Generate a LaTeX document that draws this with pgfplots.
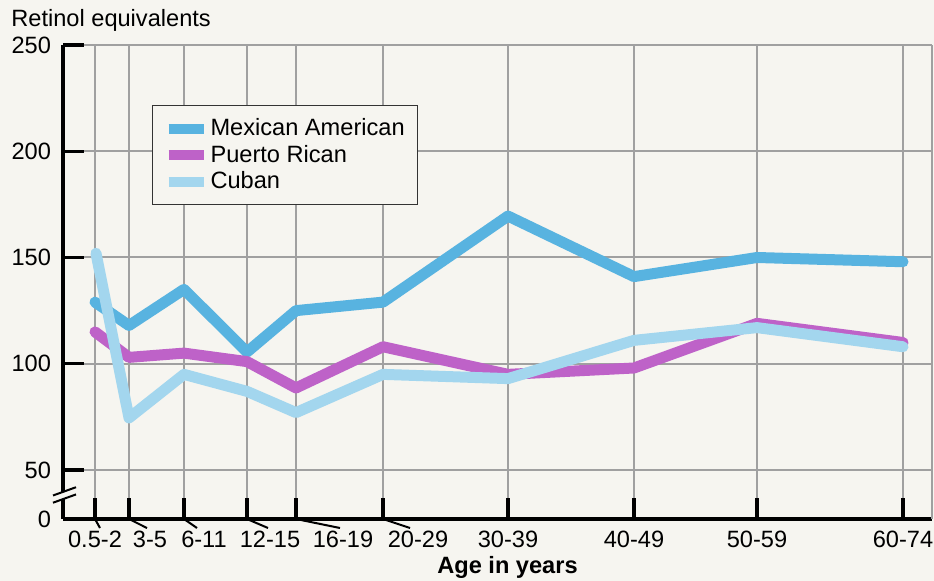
\documentclass[border=0pt]{standalone}
\usepackage{fontspec}
\setmainfont{Liberation Sans}
\usepackage{pgfplots}
\pgfplotsset{compat=1.18}
\definecolor{paper}{HTML}{F6F5F0}
\definecolor{mexblue}{HTML}{58B3E0}
\definecolor{prmag}{HTML}{BE62C8}
\definecolor{cubblue}{HTML}{A3D6EE}
\definecolor{gridgray}{HTML}{A0A0A0}
\begin{document}
\begin{tikzpicture}
\path[use as bounding box, fill=paper] (-31.5bp,-31bp) rectangle (435.5bp,259.5bp);
\begin{axis}[
  scale only axis, width=434.5bp, height=237bp,
  xmin=63, xmax=932, ymin=26.94, ymax=250,
  axis x line=bottom, axis y line=left,
  every non boxed x axis/.append style={x axis line style={-}},
  every non boxed y axis/.append style={y axis line style={-}},
  axis line style={-, line width=1.6bp, black},
  xtick={95,129,184,247,296,383,508,634,757,903},
  xticklabels={0.5-2,\hspace*{21bp}3-5,\hspace*{20bp}6-11,\hspace*{23bp}12-15,\hspace*{47bp}16-19,\hspace*{35bp}20-29,30-39,40-49,50-59,60-74},
  ytick={26.94,50,100,150,200,250},
  yticklabels={0,50,100,150,200,250},
  tick align=inside, major tick length=10.5bp,
  tick style={black, line width=1.6bp},
  grid=major, major grid style={gridgray, line width=1bp},
  extra x ticks={932}, extra x tick labels={},
  extra x tick style={major tick length=0pt, grid=major},
  ticklabel style={font=\fontsize{11.8bp}{14bp}\selectfont},
  yticklabel style={xshift=-2.5bp},
  xticklabel style={yshift=-2.5bp},
  /pgf/number format/assume math mode=true,
  clip=false,
  ylabel={Retinol equivalents},
  ylabel style={rotate=-90, at={(rel axis cs:0,1)}, anchor=base west, xshift=-26bp, yshift=9bp, inner sep=0pt, font=\fontsize{11.8bp}{14bp}\selectfont},
  xlabel={Age in years},
  xlabel style={at={(rel axis cs:0.5115,0)}, anchor=base, yshift=-27bp, inner sep=0pt, font=\bfseries\fontsize{11.8bp}{14bp}\selectfont},
  legend style={at={(rel axis cs:0.1024,0.8734)}, anchor=north west, draw=black!80, line width=0.6bp, fill=paper, font=\fontsize{11.8bp}{14bp}\selectfont, inner xsep=5.5bp, inner ysep=4.5bp, row sep=-0.75bp, nodes={inner xsep=1bp}},
  legend cell align=left,
  legend image code/.code={\draw[#1, line width=5bp, line cap=butt] (0bp,0bp) -- (17.5bp,0bp);},
  every axis plot/.append style={line width=5.5bp, line join=round, line cap=round, mark=none},
]
\addplot[mexblue] coordinates {(95,129) (129,118) (184,135) (247,105.5) (296,125) (383,129) (508,169.5) (634,141) (757,150) (903,148)};
\addlegendentry{Mexican American}
\addplot[prmag] coordinates {(95,115) (129,103) (184,105) (247,101) (296,88.6) (383,108) (508,95) (634,98) (757,119) (903,110)};
\addlegendentry{Puerto Rican}
\addplot[cubblue] coordinates {(96,152) (129,74.5) (184,95) (247,87) (296,77) (383,95) (508,93) (634,111) (757,117) (903,108)};
\addlegendentry{Cuban}
% x tick label leader lines
\draw[black, line width=1bp] (axis cs:95,26.94) -- (axis cs:100,22.7);
\draw[black, line width=1bp] (axis cs:129,26.94) -- (axis cs:147,22.7);
\draw[black, line width=1bp] (axis cs:184,26.94) -- (axis cs:197,22.7);
\draw[black, line width=1bp] (axis cs:247,26.94) -- (axis cs:268,22.7);
\draw[black, line width=1bp] (axis cs:296,26.94) -- (axis cs:340,22.7);
\draw[black, line width=1bp] (axis cs:383,26.94) -- (axis cs:410,22.7);
% axis break marks
\fill[paper] (axis cs:53,34.6) -- (axis cs:76,38.5) -- (axis cs:76,41.9) -- (axis cs:53,38.0) -- cycle;
\draw[black, line width=1bp] (axis cs:53,34.6) -- (axis cs:76,38.5);
\draw[black, line width=1bp] (axis cs:53,38.0) -- (axis cs:76,41.9);
\end{axis}
\end{tikzpicture}
\end{document}
